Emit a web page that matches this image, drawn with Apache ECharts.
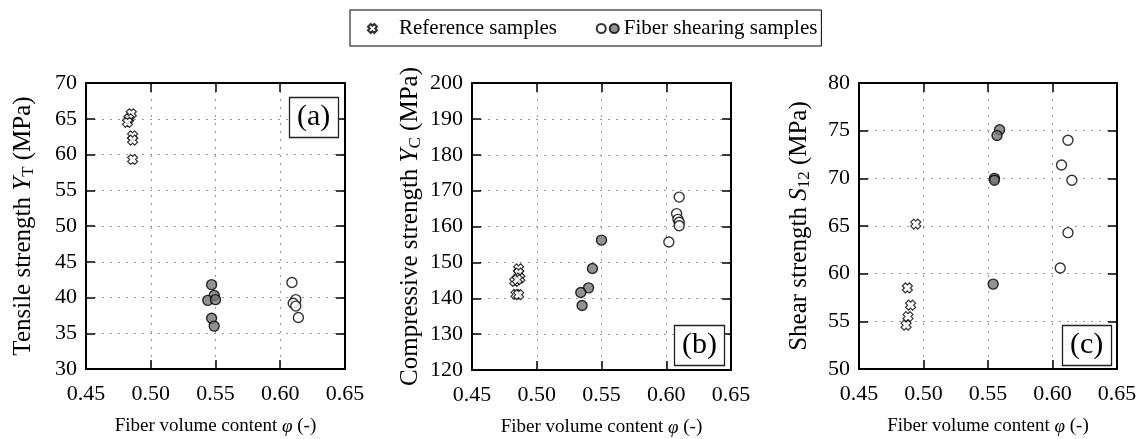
<!DOCTYPE html>
<html>
<head>
<meta charset="utf-8">
<script src="https://cdn.jsdelivr.net/npm/echarts@6/dist/echarts.min.js"></script>
<style>html,body{margin:0;padding:0;background:#fff}#c{width:1142px;height:439px}</style>
</head>
<body>
<div id="c"></div>
<script>
// ---- data ----
const xTicks = [0.45, 0.5, 0.55, 0.6, 0.65];
const yTicksA = [30, 35, 40, 45, 50, 55, 60, 65, 70];
const yTicksB = [120, 130, 140, 150, 160, 170, 180, 190, 200];
const yTicksC = [50, 55, 60, 65, 70, 75, 80];

const refA = [[0.485,65.7],[0.483,65.0],[0.482,64.5],[0.486,62.6],[0.486,62.0],[0.486,59.3]];
const fillA = [[0.547,41.8],[0.549,40.3],[0.544,39.6],[0.550,39.7],[0.547,37.1],[0.549,36.0]];
const openA = [[0.609,42.1],[0.612,39.7],[0.610,39.2],[0.612,38.8],[0.614,37.2]];

const refB = [[0.486,148.2],[0.486,147.0],[0.487,145.6],[0.483,144.7],[0.485,145.2],[0.484,141.1],[0.486,141.0]];
const fillB = [[0.550,156.2],[0.543,148.3],[0.540,142.9],[0.534,141.6],[0.535,138.0]];
const openB = [[0.610,168.2],[0.608,163.6],[0.609,162.0],[0.610,161.2],[0.610,160.2],[0.602,155.7]];

const refC = [[0.494,65.2],[0.4875,58.5],[0.490,56.7],[0.488,55.5],[0.4865,54.6]];
const fillC = [[0.559,75.1],[0.557,74.5],[0.555,70.0],[0.555,69.8],[0.554,58.9]];
const openC = [[0.612,74.0],[0.607,71.4],[0.615,69.8],[0.612,64.3],[0.606,60.6]];

const panelLabels = ['(a)', '(b)', '(c)'];
const yNames = [
  '{n|Tensile strength }{i|Y}{s|T}{n| (MPa)}',
  '{n|Compressive strength }{i|Y}{s|C}{n| (MPa)}',
  '{n|Shear strength }{i|S}{s|12}{n| (MPa)}'
];
const xName = '{n|Fiber volume content }{i|φ}{n| (-)}';
const legendNames = ['Reference samples', 'Fiber open', 'Fiber shearing samples'];

// ---- chart ----
const FONT = 'Liberation Serif';
const NB = '\u00a0';
const crossPath = 'path://M0,3 L3,0 L5,2 L7,0 L10,3 L8,5 L10,7 L7,10 L5,8 L3,10 L0,7 L2,5 Z';
const richX = {
  n: {fontFamily: FONT, fontSize: 19, color: '#000'},
  i: {fontFamily: FONT, fontSize: 19, fontStyle: 'italic', color: '#000'}
};
const richY = {
  n: {fontFamily: FONT, fontSize: 25, color: '#000'},
  i: {fontFamily: FONT, fontSize: 25, fontStyle: 'italic', color: '#000'},
  s: {fontFamily: FONT, fontSize: 17, color: '#000', padding: [11, 0, 0, 0]}
};
const grids = [
  {left: 86, top: 83, width: 259, height: 286, outerBoundsMode: 'none', containLabel: false},
  {left: 472, top: 83, width: 259, height: 287, outerBoundsMode: 'none', containLabel: false},
  {left: 859, top: 83, width: 258, height: 286, outerBoundsMode: 'none', containLabel: false}
];
const yRanges = [[30, 70, 5], [120, 200, 10], [50, 80, 5]];
const yNameGaps = [49, 48, 46];
const dataSets = [[refA, openA, fillA], [refB, openB, fillB], [refC, openC, fillC]];

const xAxes = [], yAxes = [], series = [];
const gridLine = {show: true, lineStyle: {color: '#999', type: [2, 6], width: 1}};
const frameLine = {show: true, lineStyle: {color: '#000', width: 2}};
const tick = {show: true, inside: true, length: 9, lineStyle: {color: '#000', width: 1.5}};
for (let g = 0; g < 3; g++) {
  xAxes.push({
    gridIndex: g, type: 'value', min: xTicks[0], max: xTicks[xTicks.length - 1], interval: 0.05,
    position: 'bottom', axisLine: frameLine, axisTick: tick, splitLine: gridLine,
    axisLabel: {fontFamily: FONT, fontSize: 22, color: '#000', margin: 14,
      formatter: v => v.toFixed(2)},
    name: xName, nameLocation: 'middle', nameGap: 48, nameTextStyle: {rich: richX}
  });
  xAxes.push({
    gridIndex: g, type: 'value', min: xTicks[0], max: xTicks[xTicks.length - 1], interval: 0.05,
    position: 'top', axisLine: frameLine, axisTick: tick, splitLine: {show: false},
    axisLabel: {show: false}
  });
  const [ymin, ymax, yint] = yRanges[g];
  yAxes.push({
    gridIndex: g, type: 'value', min: ymin, max: ymax, interval: yint,
    position: 'left', axisLine: frameLine, axisTick: tick, splitLine: gridLine,
    axisLabel: {fontFamily: FONT, fontSize: 22, color: '#000', margin: 9},
    name: yNames[g], nameLocation: 'middle', nameGap: yNameGaps[g], nameTextStyle: {rich: richY}
  });
  yAxes.push({
    gridIndex: g, type: 'value', min: ymin, max: ymax, interval: yint,
    position: 'right', axisLine: frameLine, axisTick: tick, splitLine: {show: false},
    axisLabel: {show: false}
  });
  const [ref, open, fill] = dataSets[g];
  series.push({
    name: legendNames[0], type: 'scatter', xAxisIndex: 2 * g, yAxisIndex: 2 * g,
    data: ref, symbol: crossPath, symbolSize: 10,
    itemStyle: {color: '#fff', borderColor: '#000', borderWidth: 1.2}
  });
  series.push({
    name: legendNames[1], type: 'scatter', xAxisIndex: 2 * g, yAxisIndex: 2 * g,
    data: open, symbol: 'circle', symbolSize: 10,
    itemStyle: {color: '#fff', borderColor: '#000', borderWidth: 1.4}
  });
  series.push({
    name: legendNames[2], type: 'scatter', xAxisIndex: 2 * g, yAxisIndex: 2 * g,
    data: fill, symbol: 'circle', symbolSize: 10,
    itemStyle: {color: '#777', borderColor: '#000', borderWidth: 1.4}
  });
}

const titles = [
  {text: panelLabels[0], left: 289, top: 97},
  {text: panelLabels[1], left: 674, top: 325},
  {text: panelLabels[2], left: 1062, top: 325}
].map(t => Object.assign(t, {
  borderColor: '#222', borderWidth: 1.3, padding: [5, 8, 6, 8],
  backgroundColor: '#fff',
  textStyle: {fontFamily: FONT, fontSize: 30, fontWeight: 'normal', color: '#000'}
}));

const chart = echarts.init(document.getElementById('c'), null, {renderer: 'canvas'});
chart.setOption({
  animation: false,
  backgroundColor: '#fff',
  title: titles,
  grid: grids,
  xAxis: xAxes,
  yAxis: yAxes,
  legend: {
    data: legendNames, top: 10, left: 350,
    borderColor: '#000', borderWidth: 1, padding: [8, 4, 7, 17],
    itemWidth: 9, itemHeight: 9, itemGap: 2, selectedMode: false,
    textStyle: {fontFamily: FONT, fontSize: 21, color: '#000',
      rich: {
        r: {fontFamily: FONT, fontSize: 21, color: '#000', padding: [0, 0, 0, 17]},
        f: {fontFamily: FONT, fontSize: 21, color: '#000'}
      }},
    formatter: n => n === 'Fiber open' ? '' :
      (n === legendNames[0] ? '{r|' + n + NB.repeat(7) + '}' : '{f|' + n + '}')
  },
  series: series
});
</script>
</body>
</html>
